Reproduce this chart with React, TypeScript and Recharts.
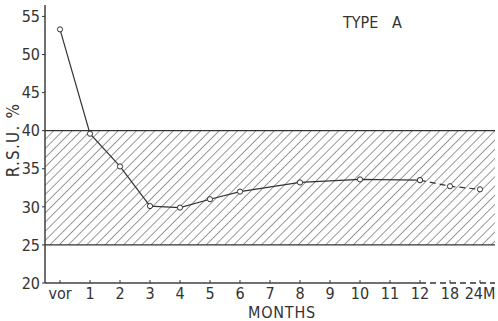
import React from "react";
import {
  ComposedChart,
  Line,
  XAxis,
  YAxis,
  ReferenceArea,
  ReferenceLine,
} from "recharts";

const months = ["vor", "1", "2", "3", "4", "5", "6", "7", "8", "9", "10", "11", "12", "18", "24M"];
// measured R.S.U. % during the first year (no reading at 7, 9, 11)
const firstYear = [53.3, 39.6, 35.3, 30.1, 29.9, 31.0, 32.0, null, 33.2, null, 33.6, null, 33.5, null, null];
// later follow-up, drawn dashed
const followUp = [null, null, null, null, null, null, null, null, null, null, null, null, 33.5, 32.7, 32.3];
const yTicks = [20, 25, 30, 35, 40, 45, 50, 55];
const normalLow = 25;
const normalHigh = 40;

const data = months.map((m, i) => ({
  month: m,
  firstYear: firstYear[i],
  followUp: followUp[i],
}));

const INK = "#333";
const FONT = '"Liberation Sans Narrow", "DejaVu Sans Condensed", "Roboto Condensed", sans-serif';
const lastSolid = months.indexOf("12");

const MonthTick = (props: any) => {
  const { x, y, payload, index } = props;
  const half = payload?.offset || 15;
  const i = index ?? payload?.index ?? 0;
  let axis: React.ReactNode = null;
  if (i < lastSolid) {
    axis = <line x1={x - half} x2={x + half} y1={y} y2={y} stroke={INK} strokeWidth={1.4} />;
  } else if (i === lastSolid) {
    const rest = half * (2 * (months.length - 1 - i) + 1);
    axis = (
      <g>
        <line x1={x - half} x2={x} y1={y} y2={y} stroke={INK} strokeWidth={1.4} />
        <line x1={x} x2={x + rest} y1={y} y2={y} stroke={INK} strokeWidth={1.4} strokeDasharray="6 4" />
      </g>
    );
  }
  return (
    <g>
      {axis}
      <line x1={x} x2={x} y1={y} y2={y - 3} stroke={INK} strokeWidth={1} />
      <text x={x} y={y} dy={16} textAnchor="middle" fill={INK} fontSize={16} fontFamily={FONT}>
        {payload.value}
      </text>
    </g>
  );
};

const Dot = (props: any) => {
  const { cx, cy, value } = props;
  if (value == null || cx == null || cy == null) return null;
  return <circle cx={cx} cy={cy} r={2.6} fill="#fff" stroke={INK} strokeWidth={1} />;
};

export default function App() {
  return (
    <div style={{ position: "absolute", left: 0, top: 0, background: "#fff" }}>
      <ComposedChart
        width={498}
        height={321}
        data={data}
        margin={{ top: 5, right: 3, left: 0, bottom: 0 }}
      >
        <defs>
          <pattern
            id="hatch"
            patternUnits="userSpaceOnUse"
            width={6.5}
            height={6.5}
            patternTransform="rotate(45)"
          >
            <line x1={0} y1={0} x2={0} y2={6.5} stroke="#555" strokeWidth={1.2} />
          </pattern>
        </defs>
        <XAxis
          dataKey="month"
          scale="band"
          axisLine={false}
          tickLine={false}
          tickSize={0}
          tickMargin={0}
          height={38}
          interval={0}
          tick={<MonthTick />}
          label={{
            content: (p: any) => {
              const vb = p.viewBox || {};
              return (
                <text
                  x={vb.x + vb.width / 2 + 12}
                  y={vb.y + 35}
                  textAnchor="middle"
                  fill={INK}
                  fontSize={16}
                  fontFamily={FONT}
                  letterSpacing={0.8}
                >
                  MONTHS
                </text>
              );
            },
          }}
        />
        <YAxis
          type="number"
          domain={[20, 56.5]}
          ticks={yTicks}
          width={45}
          axisLine={{ stroke: INK, strokeWidth: 1.4 }}
          tickLine={{ stroke: INK }}
          tickSize={3}
          tickMargin={2}
          tick={{ fill: INK, fontSize: 16, fontFamily: FONT }}
          label={{
            content: (p: any) => {
              const vb = p.viewBox || {};
              const cx = vb.x + 13;
              const cy = vb.y + vb.height / 2 - 4;
              return (
                <text
                  x={cx}
                  y={cy}
                  transform={`rotate(-90 ${cx} ${cy})`}
                  textAnchor="middle"
                  dominantBaseline="central"
                  fill={INK}
                  fontSize={17}
                  fontFamily={FONT}
                  letterSpacing={1.2}
                >
                  R.S.U. %
                </text>
              );
            },
          }}
        />
        <ReferenceArea y1={normalLow} y2={normalHigh} fill="url(#hatch)" fillOpacity={1} stroke="none" />
        <ReferenceLine y={normalHigh} stroke={INK} strokeWidth={1.3} />
        <ReferenceLine y={normalLow} stroke={INK} strokeWidth={1.3} />
        <Line
          dataKey="firstYear"
          stroke={INK}
          strokeWidth={1.2}
          connectNulls
          dot={<Dot />}
          activeDot={false}
          isAnimationActive={false}
        />
        <Line
          dataKey="followUp"
          stroke={INK}
          strokeWidth={1.2}
          strokeDasharray="6 4"
          connectNulls
          dot={<Dot />}
          activeDot={false}
          isAnimationActive={false}
        />
        <text x={343} y={28} fill={INK} fontSize={16} fontFamily={FONT} style={{ whiteSpace: "pre" }}>
          {"TYPE   A"}
        </text>
      </ComposedChart>
    </div>
  );
}
